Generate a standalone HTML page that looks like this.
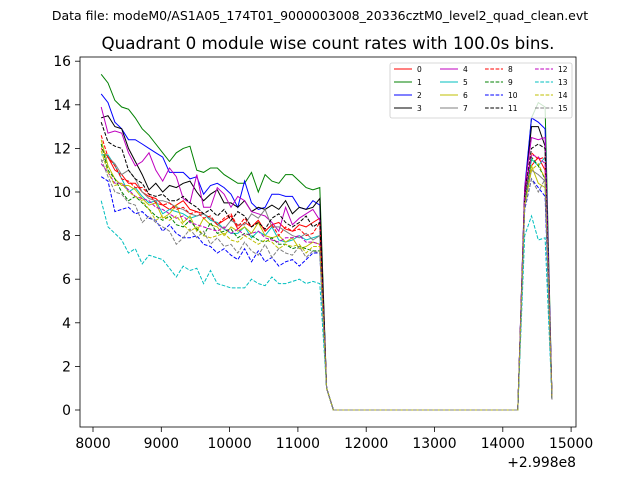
<!DOCTYPE html>
<html><head><meta charset="utf-8"><style>
body{margin:0;background:#fff;}
svg{display:block;font-family:"DejaVu Sans","Liberation Sans",sans-serif;}
</style></head><body>
<svg id="chart" width="640" height="480">
<text x="320" y="20" font-size="12.5" text-anchor="middle">Data file: modeM0/AS1A05_174T01_9000003008_20336cztM0_level2_quad_clean.evt</text>
<text x="328" y="49" font-size="16.7" text-anchor="middle">Quadrant 0 module wise count rates with 100.0s bins.</text>
<g id="plot"></g>
<rect x="80" y="57" width="496" height="370" fill="none" stroke="#000" stroke-width="0.8"/>
<g id="xticks"></g>
<g id="yticks"></g>
<text x="576" y="467" font-size="13.9" text-anchor="end">+2.998e8</text>
<g id="legend"></g>
</svg>
<script>
const activeTimes=[8120,8220,8320,8420,8520,8620,8720,8820,8920,9020,9120,9220,9320,9420,9520,9620,9720,9820,9920,10020,10120,10220,10320,10420,10520,10620,10720,10820,10920,11020,11120,11220,11320];
const tailTimes=[11420,11520,14220,14320,14420,14520,14620,14720];
const xTicks=[8000,9000,10000,11000,12000,13000,14000,15000];
const yTicks=[0,2,4,6,8,10,12,14,16];
const dropVals=[1.0,0,0];
const endVal=[0.5];
const colors=["#ff0000","#008000","#0000ff","#000000","#bf00bf","#00bfbf","#bfbf00","#808080","#ff0000","#008000","#0000ff","#000000","#bf00bf","#00bfbf","#bfbf00","#808080"];
const s0=[12.0,11.6,11.0,10.8,10.4,10.4,10.0,9.8,9.7,9.4,9.2,9.4,9.6,9.2,9.1,9.0,8.8,8.5,8.7,8.9,8.3,8.6,8.4,8.7,8.2,8.5,8.6,8.3,8.2,8.5,8.4,8.6,8.8];
const s1=[15.4,15.0,14.2,13.9,13.8,13.4,12.9,12.6,12.2,11.8,11.4,11.8,12.0,12.1,11.0,10.9,11.1,11.1,10.8,10.6,10.4,10.4,10.9,10.0,10.8,10.5,10.4,10.8,10.8,10.5,10.2,10.1,10.2];
const s2=[14.5,14.1,13.2,12.9,12.4,12.4,12.2,12.0,11.8,11.6,10.9,10.9,10.9,10.6,10.7,9.9,10.3,10.4,10.2,9.9,9.3,10.5,9.5,9.2,9.3,9.9,9.9,9.8,9.8,9.3,9.2,9.6,9.4];
const s3=[13.4,13.5,13.0,12.9,12.0,11.4,10.8,10.1,10.4,10.0,10.3,10.2,10.4,10.5,10.0,9.6,9.9,10.1,9.5,9.5,9.3,9.6,9.1,9.3,9.2,9.4,9.2,9.6,9.0,9.3,9.2,9.3,9.7];
const s4=[13.9,12.7,12.8,12.7,11.8,11.2,11.4,11.8,11.0,10.5,11.1,10.7,9.7,9.5,10.8,9.3,9.3,10.2,9.9,9.3,9.8,9.6,9.1,9.0,8.9,8.6,8.2,9.3,8.5,8.8,9.0,9.2,8.7];
const s5=[11.7,11.7,11.2,10.6,10.0,10.2,9.8,9.5,9.6,9.0,9.2,9.1,9.0,8.8,8.9,9.0,8.7,8.6,8.3,8.1,8.1,8.4,7.9,8.2,8.0,8.4,7.8,7.7,7.8,8.0,7.8,7.9,8.0];
const s6=[12.4,11.2,10.6,10.3,10.3,10.1,9.7,9.4,9.5,8.8,9.0,9.4,8.6,8.9,8.2,8.8,8.5,8.4,8.0,8.4,8.2,8.4,8.1,8.6,8.0,7.9,8.0,7.7,7.9,7.4,7.5,7.7,7.6];
const s7=[11.4,11.6,11.3,10.8,11.0,10.6,10.0,9.7,9.6,9.6,9.5,9.3,9.2,9.0,8.9,9.0,8.8,8.5,8.3,8.7,8.5,8.5,9.0,8.8,9.2,8.4,8.4,8.2,8.0,7.9,8.1,7.8,8.0];
const s8=[12.6,11.6,11.2,10.6,10.5,10.2,10.2,9.9,9.5,9.4,9.5,9.2,9.3,9.0,9.1,8.8,8.9,8.5,8.8,9.0,8.4,8.8,8.4,8.7,8.2,8.5,8.0,8.4,8.2,8.3,8.0,8.1,8.6];
const s9=[12.2,11.0,10.6,10.0,9.6,9.8,9.5,9.2,8.9,8.7,8.9,8.5,8.4,8.7,8.3,8.0,8.6,8.1,8.2,8.3,7.9,8.1,8.0,7.8,7.7,7.9,7.6,7.6,7.4,7.5,7.4,7.3,7.3];
const s10=[10.7,10.5,9.1,9.2,9.3,9.0,9.1,8.8,8.7,8.2,8.5,8.1,7.9,7.9,8.0,7.6,7.5,7.2,7.4,7.1,6.9,7.4,6.8,7.3,6.8,7.0,6.6,6.8,6.9,6.6,6.9,7.2,7.2];
const s11=[13.2,12.3,12.1,12.0,11.0,10.6,10.4,9.9,9.8,9.9,9.6,9.6,9.8,9.5,9.3,9.0,9.2,8.9,9.2,8.7,9.1,8.9,8.4,8.6,8.3,8.8,9.0,8.6,8.4,8.6,8.9,8.4,8.6];
const s12=[11.3,10.9,10.4,10.4,10.1,9.8,9.7,9.6,9.3,9.2,9.0,8.8,8.9,8.6,8.5,8.4,8.3,8.2,8.4,8.1,8.3,8.0,8.1,8.2,7.9,7.8,7.7,7.9,7.9,8.0,7.7,7.7,7.6];
const s13=[9.6,8.4,8.1,7.8,7.2,7.4,6.7,7.1,7.0,6.9,6.5,6.1,6.6,6.4,6.5,5.8,6.4,5.8,5.7,5.6,5.6,5.6,6.0,5.8,5.7,6.1,5.8,5.8,5.9,6.0,5.8,5.9,5.8];
const s14=[11.9,10.9,10.3,10.4,10.0,9.8,9.6,9.2,8.7,8.9,8.7,8.9,8.5,8.2,8.4,8.0,7.9,8.0,8.1,7.8,7.7,8.0,7.8,7.6,7.8,7.7,7.4,7.6,7.5,7.6,7.2,7.5,7.5];
const s15=[11.5,10.7,10.0,9.9,9.5,9.4,8.6,8.9,8.6,8.4,8.2,7.6,7.9,8.3,7.9,8.2,7.6,7.9,7.5,7.6,7.2,7.7,7.3,7.1,7.6,7.0,7.4,7.2,7.1,7.5,7.0,7.3,7.2];
const p0=[9.8,11.2,11.6,11.0],p1=[10.0,13.4,14.1,13.9],p2=[10.2,13.4,13.2,12.9],p3=[10.0,13.0,13.0,12.1];
const p4=[10.2,12.5,12.4,12.5],p5=[9.6,11.5,11.2,11.6],p6=[9.4,11.2,10.4,10.2],p7=[9.5,11.0,10.8,10.5];
const p8=[9.8,11.8,11.5,11.6],p9=[9.6,11.6,11.2,10.6],p10=[9.2,10.6,10.2,9.8],p11=[9.9,12.0,12.2,12.0];
const p12=[9.8,11.7,11.6,11.3],p13=[8.0,8.9,7.8,7.9],p14=[9.4,11.0,11.3,10.6],p15=[9.3,10.6,10.0,10.6];

const NS="http://www.w3.org/2000/svg";
const xs=v=>93+(v-8000)*0.0683;
const ys=v=>410-v*21.8;
const actives=[s0,s1,s2,s3,s4,s5,s6,s7,s8,s9,s10,s11,s12,s13,s14,s15];
const peaks=[p0,p1,p2,p3,p4,p5,p6,p7,p8,p9,p10,p11,p12,p13,p14,p15];
const times=activeTimes.concat(tailTimes);
const plot=document.getElementById('plot');
actives.forEach((a,i)=>{
  const vals=a.concat(dropVals,peaks[i],endVal);
  const pts=vals.map((v,k)=>xs(times[k]).toFixed(1)+','+ys(v).toFixed(1)).join(' ');
  const pl=document.createElementNS(NS,'polyline');
  pl.setAttribute('points',pts);
  pl.setAttribute('fill','none');
  pl.setAttribute('stroke',colors[i]);
  pl.setAttribute('stroke-width','1');
  if(i>=8) pl.setAttribute('stroke-dasharray','3.7,1.6');
  
  
  plot.appendChild(pl);
});
const xg=document.getElementById('xticks');
xTicks.forEach(t=>{
  const x=xs(t);
  const l=document.createElementNS(NS,'line');
  l.setAttribute('x1',x);l.setAttribute('x2',x);l.setAttribute('y1',427);l.setAttribute('y2',432);
  l.setAttribute('stroke','#000');l.setAttribute('stroke-width','0.8');
  
  
  xg.appendChild(l);
  const tx=document.createElementNS(NS,'text');
  tx.setAttribute('x',x);tx.setAttribute('y',448);tx.setAttribute('font-size','13.9');tx.setAttribute('text-anchor','middle');
  tx.textContent=t;
  
  
  xg.appendChild(tx);
});
const yg=document.getElementById('yticks');
yTicks.forEach(t=>{
  const y=ys(t);
  const l=document.createElementNS(NS,'line');
  l.setAttribute('x1',75);l.setAttribute('x2',80);l.setAttribute('y1',y);l.setAttribute('y2',y);
  l.setAttribute('stroke','#000');l.setAttribute('stroke-width','0.8');
  
  
  yg.appendChild(l);
  const tx=document.createElementNS(NS,'text');
  tx.setAttribute('x',71);tx.setAttribute('y',y+5);tx.setAttribute('font-size','13.9');tx.setAttribute('text-anchor','end');
  tx.textContent=t;
  
  
  yg.appendChild(tx);
});
const lg=document.getElementById('legend');
const box=document.createElementNS(NS,'rect');
box.setAttribute('x',390);box.setAttribute('y',63);box.setAttribute('width',182);box.setAttribute('height',55);box.setAttribute('rx',2);
box.setAttribute('fill','#fff');box.setAttribute('fill-opacity','0.8');box.setAttribute('stroke','#ccc');box.setAttribute('stroke-width','0.8');


lg.appendChild(box);
const colX=[394,440,485,535];
const rowY=[69,82,95,108];
for(let i=0;i<16;i++){
  const c=Math.floor(i/4),r=i%4;
  const l=document.createElementNS(NS,'line');
  l.setAttribute('x1',colX[c]);l.setAttribute('x2',colX[c]+18);l.setAttribute('y1',rowY[r]);l.setAttribute('y2',rowY[r]);
  l.setAttribute('stroke',colors[i]);l.setAttribute('stroke-width','1');
  if(i>=8) l.setAttribute('stroke-dasharray','3.7,1.6');
  
  
  lg.appendChild(l);
  const tx=document.createElementNS(NS,'text');
  tx.setAttribute('x',colX[c]+23);tx.setAttribute('y',rowY[r]+2.8);tx.setAttribute('font-size','7.5');
  tx.textContent=String(i);
  
  
  lg.appendChild(tx);
}
</script>
</body></html>
